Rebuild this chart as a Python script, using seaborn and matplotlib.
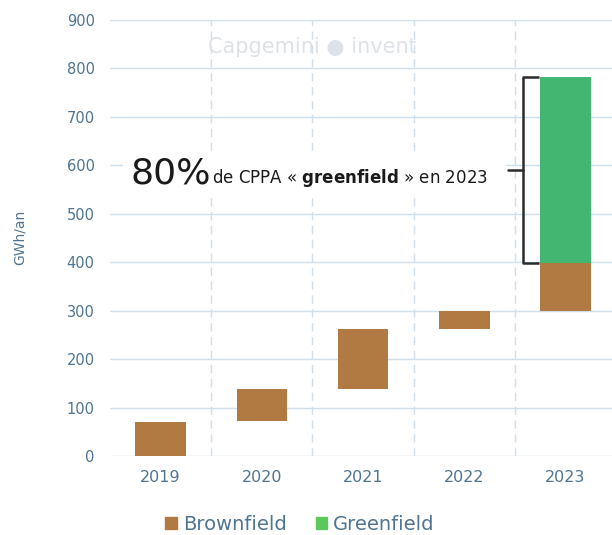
import numpy as np
import pandas as pd
import matplotlib.pyplot as plt
import seaborn as sns
from matplotlib.patches import Patch

sns.set_style("white")

years = ["2019", "2020", "2021", "2022", "2023"]
brown_bottom = [0, 72, 138, 262, 300]
brown_height = [71, 66, 124, 38, 98]
green_bottom = [0, 0, 0, 0, 398]
green_height = [0, 0, 0, 0, 385]
yticks = [0, 100, 200, 300, 400, 500, 600, 700, 800, 900]

brown = "#b07a42"
green = "#43b672"
txt = "#4f7590"
grid = "#cfe0ec"

df_b = pd.DataFrame({"year": years, "val": brown_height})
df_g = pd.DataFrame({"year": years, "val": green_height})

fig = plt.figure(figsize=(6.12, 5.35), dpi=100)
ax = fig.add_axes([110 / 612, 79 / 535, 506 / 612, 436 / 535])

for y in yticks:
    ax.axhline(y, color=grid, lw=1, zorder=0)
for x in [0.5, 1.5, 2.5, 3.5]:
    ax.axvline(x, color=grid, lw=1, ls=(0, (6, 4)), zorder=0)

sns.barplot(data=df_b, x="year", y="val", color=brown, width=0.5,
            bottom=brown_bottom, saturation=1, linewidth=0, ax=ax, zorder=2)
sns.barplot(data=df_g, x="year", y="val", color=green, width=0.5,
            bottom=green_bottom, saturation=1, linewidth=0, ax=ax, zorder=2)

ax.set_xlim(-0.5, 4.5)
ax.set_ylim(0, 900)
ax.set_yticks(yticks)
ax.set_xlabel("")
ax.set_ylabel("")
for s in ax.spines.values():
    s.set_visible(False)
ax.tick_params(axis="y", colors=txt, labelsize=10.5, length=0, pad=11)
ax.tick_params(axis="x", colors=txt, labelsize=11.5, length=0, pad=10)
fig.text(20 / 612, 1 - 237 / 535, "GWh/an", color=txt, fontsize=10,
         rotation=90, ha="center", va="center")

# watermark
ax.text(1.5, 845, "Capgemini \u25cf invent", color="#dde3e8", fontsize=15,
        ha="center", va="center", zorder=1)

# bracket for greenfield share
bx = 3.58
ax.plot([bx + 0.16, bx, bx, bx + 0.16], [783, 783, 398, 398],
        color="#2b2b2b", lw=1.8, zorder=3, solid_capstyle="butt")
ax.plot([bx - 0.15, bx], [590, 590], color="#2b2b2b", lw=1.8, zorder=3)

# annotation
ax.add_patch(plt.Rectangle((-0.37, 533), 3.78, 92, facecolor="white",
                           edgecolor="none", zorder=2.5))
ax.text(-0.3, 563, "80%", fontsize=26, color="#1a1a1a", zorder=3)
ax.text(0.51, 563, "de CPPA \u00ab $\\mathbf{greenfield}$ \u00bb en 2023",
        fontsize=12, color="#1a1a1a", zorder=3)

handles = [Patch(color=brown, label="Brownfield"),
           Patch(color="#5cc85c", label="Greenfield")]
leg = fig.legend(handles=handles, loc="lower center", ncol=2, frameon=False,
                 bbox_to_anchor=(0.49, -0.03), fontsize=14, handlelength=0.6,
                 handleheight=0.6, handletextpad=0.3, columnspacing=1.5)
for t in leg.get_texts():
    t.set_color(txt)

fig.savefig("out.png", dpi=100)
